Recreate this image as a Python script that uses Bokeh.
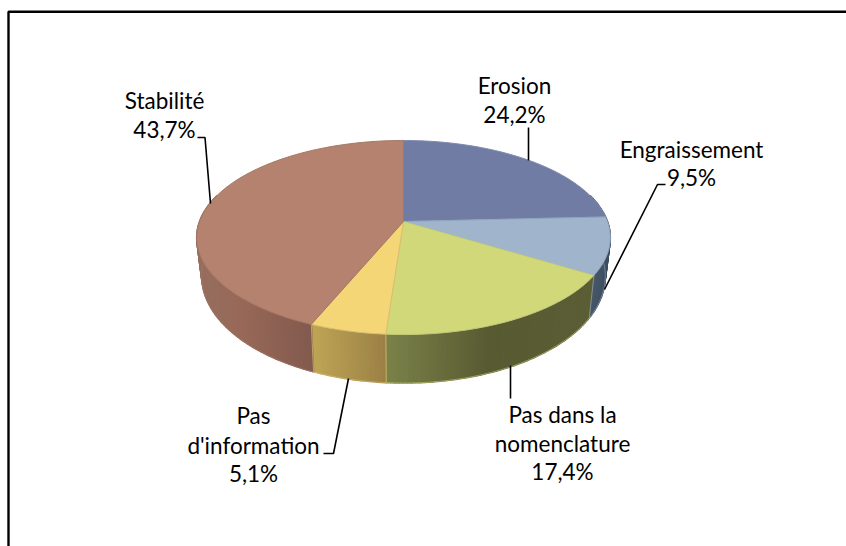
import math
from bokeh.embed import file_html
from bokeh.resources import INLINE
from bokeh.plotting import figure
from bokeh.models import Range1d
from bokeh.core.properties import value

# --- data ---
categories = ["Erosion", "Engraissement", "Pas dans la nomenclature", "Pas d'information", "Stabilité"]
shares = [24.2, 9.5, 17.4, 5.1, 43.7]
share_labels = ["24,2%", "9,5%", "17,4%", "5,1%", "43,7%"]

# --- style ---
top_colors = ["#707CA3", "#A0B5CC", "#D1D87A", "#F5D677", "#B4826E"]
edge_colors = ["#7F8AAD", "#8FA6C0", "#C4CB78", "#D9BE70", "#A57865"]
# side shading: (fraction of slice's visible width, rgb)
side_stops = [
    [(0, (80, 90, 120)), (1, (80, 90, 120))],
    [(0, (72, 88, 106)), (1, (60, 76, 94))],
    [(0, (122, 130, 72)), (0.5, (88, 90, 50)), (1, (92, 94, 54))],
    [(0, (190, 165, 85)), (1, (155, 128, 70))],
    [(0, (150, 110, 95)), (0.35, (152, 105, 88)), (1, (130, 90, 78))],
]

# --- perspective model of the pie (page pixels) ---
CX, CY, RX, RY, PERSP = 403, 221, 204, 94.4, 0.165
BOT_Y, BOT_RX, BOT_RY = 258, 199, 104
TEXT_DY = -8


def top_pt(theta):
    u, v = math.sin(theta), math.cos(theta)
    d = 1 + PERSP * v
    return CX + RX * u / d, CY - RY * v / d


def bot_pt(theta):
    u, v = math.sin(theta), math.cos(theta)
    d = 1 + PERSP * v
    return CX + BOT_RX * u / d, BOT_Y - BOT_RY * v / d


def shade(stops, t):
    for (t0, c0), (t1, c1) in zip(stops, stops[1:]):
        if t <= t1:
            f = (t - t0) / (t1 - t0)
            return "#%02x%02x%02x" % tuple(round(a + (b - a) * f) for a, b in zip(c0, c1))
    return "#%02x%02x%02x" % stops[-1][1]


total = sum(shares)
bounds = []
acc = 0.0
for s in shares:
    bounds.append((acc / total * 2 * math.pi, (acc + s) / total * 2 * math.pi))
    acc += s

p = figure(width=846, height=546, output_backend="svg", toolbar_location=None,
           x_range=Range1d(0, 846), y_range=Range1d(546, 0),
           x_axis_location=None, y_axis_location=None, min_border=0,
           outline_line_color=None, background_fill_color="white", border_fill_color="white")
p.grid.visible = False

# frame
p.line([8, 8, 846], [546, 11.3, 11.3], line_color="black", line_width=2.4)

# side wall
sx, sy, sc = [], [], []
for (a0, a1), stops in zip(bounds, side_stops):
    n = max(2, int((a1 - a0) / math.radians(1.0)))
    angles = [a0 + (a1 - a0) * i / n for i in range(n + 1)]
    vis = [a for a in angles if math.cos(a) < 0.3]
    if len(vis) < 2:
        continue
    xs_all = [top_pt(a)[0] for a in vis]
    xmin, xmax = min(xs_all), max(xs_all)
    for b0, b1 in zip(vis, vis[1:]):
        t0, t1 = top_pt(b0), top_pt(b1)
        q0, q1 = bot_pt(b0), bot_pt(b1)
        sx.append([t0[0], t1[0], q1[0], q0[0]])
        sy.append([t0[1], t1[1], q1[1], q0[1]])
        t = ((t0[0] + t1[0]) / 2 - xmin) / max(xmax - xmin, 1)
        sc.append(shade(stops, t))
p.patches(sx, sy, fill_color=sc, line_color=sc, line_width=1.5)

# side dividers and lower rim
for (a0, a1), ec in zip(bounds, edge_colors):
    if math.cos(a1) < 0.3:
        t, q = top_pt(a1), bot_pt(a1)
        p.line([t[0], q[0]], [t[1], q[1]], line_color=ec, line_width=1, line_alpha=0.7)
    n = 60
    rim = [a0 + (a1 - a0) * i / n for i in range(n + 1)]
    rim = [a for a in rim if math.cos(a) < 0.1]
    if len(rim) > 1:
        pts = [bot_pt(a) for a in rim]
        p.line([q[0] for q in pts], [q[1] for q in pts], line_color=ec, line_width=1, line_alpha=0.6)

# top slices
for (a0, a1), col, ec in zip(bounds, top_colors, edge_colors):
    n = max(8, int((a1 - a0) / math.radians(1.0)))
    pts = [(CX, CY)] + [top_pt(a0 + (a1 - a0) * i / n) for i in range(n + 1)]
    p.patch([q[0] for q in pts], [q[1] for q in pts], fill_color=col, line_color=ec, line_width=1)

# leader lines
leaders = {
    "Stabilité": ([197, 204.5, 210], [137, 137, 203]),
    "Erosion": ([528, 528], [127, 160]),
    "Engraissement": ([665, 657, 604], [184, 184, 289]),
    "Pas dans la nomenclature": ([510, 510], [365, 398]),
    "Pas d'information": ([323, 333, 348], [453, 453, 378]),
}
for c in categories:
    xs, ys = leaders[c]
    p.line(xs, ys, line_color="black", line_width=1.6)

# labels
label_layout = {
    "Erosion": (514, [(None, 93), ("share", 122)]),
    "Engraissement": (691, [(None, 157), ("share", 185)]),
    "Pas dans la nomenclature": (562, [("Pas dans la", 422), ("nomenclature", 451), ("share", 479)]),
    "Pas d'information": (253, [("Pas", 423), ("d'information", 453), ("share", 481)]),
    "Stabilité": (164, [(None, 108), ("share", 137)]),
}
tx, ty, tt = [], [], []
for c, lab in zip(categories, share_labels):
    x, lines = label_layout[c]
    for txt, y in lines:
        tx.append(x)
        ty.append(y + TEXT_DY)
        tt.append(lab if txt == "share" else (txt or c))
p.text(tx, ty, text=tt, text_font=value("Lato"), text_font_size="22.5px", text_color="black",
       text_align="center", text_baseline="alphabetic")

open("out.html", "w").write(file_html(p, INLINE))
